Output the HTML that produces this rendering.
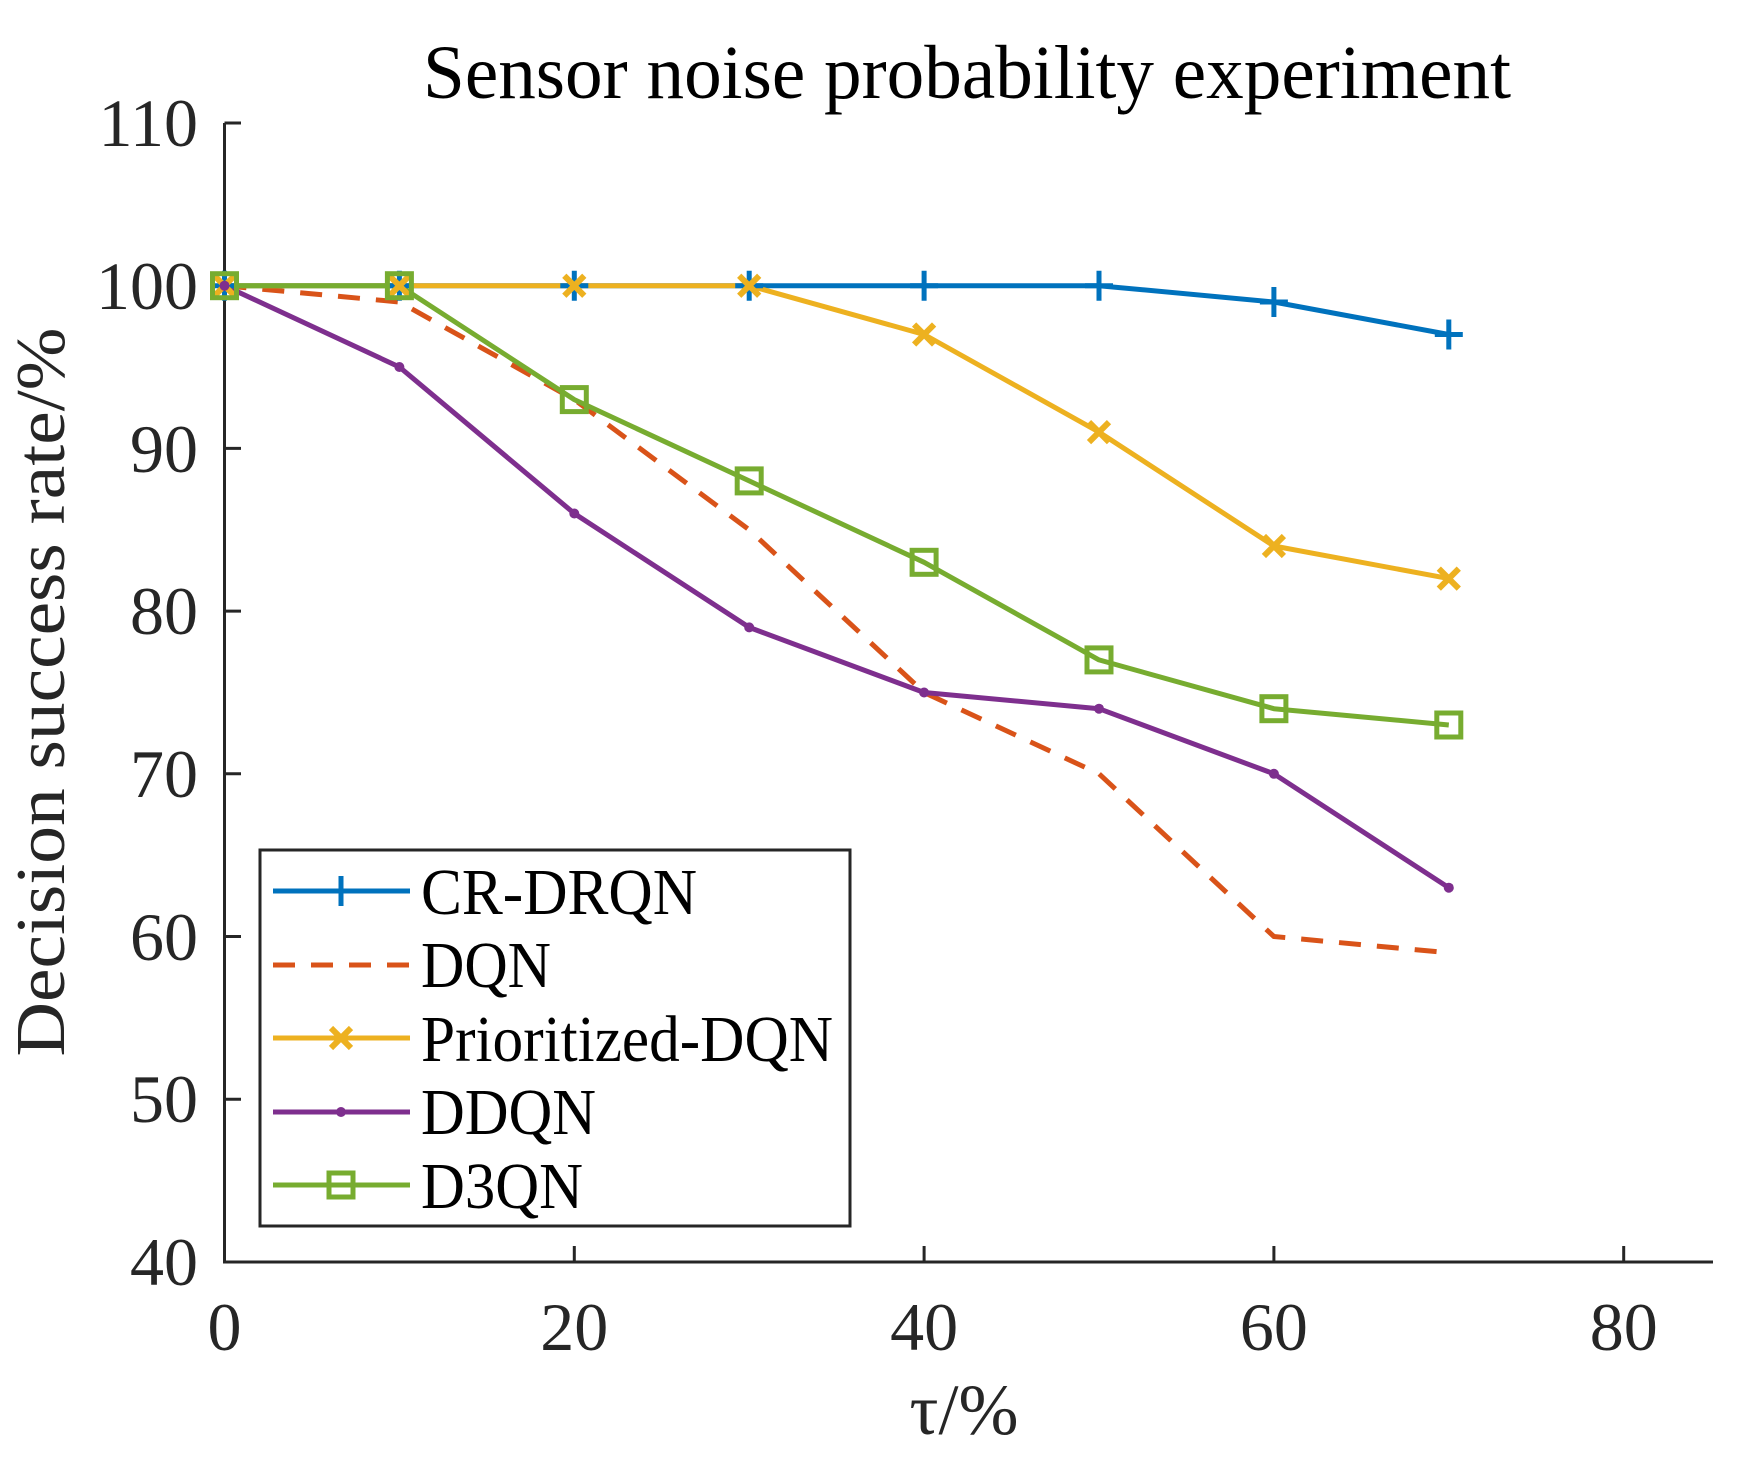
<!DOCTYPE html>
<html><head><meta charset="utf-8"><style>
html,body{margin:0;padding:0;background:#fff;}
svg{display:block;font-family:"Liberation Serif",serif;}
</style></head><body>
<svg width="1746" height="1462" viewBox="0 0 1746 1462" xmlns="http://www.w3.org/2000/svg">
<defs>
<path id="plus" d="M-14 0H14M0 -15V15" stroke-width="5" fill="none"/>
<path id="cross" d="M-10 -10L10 10M-10 10L10 -10" stroke-width="6" fill="none"/>
<rect id="sq" x="-12" y="-12" width="24" height="24" stroke-width="5" fill="none"/>
</defs>
<rect width="1746" height="1462" fill="#fff"/>
<text x="967" y="98" font-size="76" text-anchor="middle" textLength="1088" lengthAdjust="spacingAndGlyphs" fill="#000">Sensor noise probability experiment</text>

<g stroke="#262626" stroke-width="3" fill="none">
<path d="M224.5 123V1262H1713"/>
<path d="M224.5 123H241 M224.5 285.7H241 M224.5 448.4H241 M224.5 611.1H241 M224.5 773.8H241 M224.5 936.5H241 M224.5 1099.2H241"/>
<path d="M574.3 1262V1246 M924.1 1262V1246 M1273.9 1262V1246 M1623.7 1262V1246"/>
</g>
<g font-size="68" fill="#262626" text-anchor="end">
<text x="198" y="146">110</text>
<text x="198" y="309">100</text>
<text x="198" y="472">90</text>
<text x="198" y="634">80</text>
<text x="198" y="797">70</text>
<text x="198" y="960">60</text>
<text x="198" y="1122">50</text>
<text x="198" y="1285">40</text>
</g>
<g font-size="68" fill="#262626" text-anchor="middle">
<text x="224.5" y="1350">0</text>
<text x="574.3" y="1350">20</text>
<text x="924.1" y="1350">40</text>
<text x="1273.9" y="1350">60</text>
<text x="1623.7" y="1350">80</text>
</g>
<text x="964" y="1434" font-size="72" text-anchor="middle" fill="#262626">τ/%</text>
<text transform="translate(64,692) rotate(-90)" font-size="70" text-anchor="middle" textLength="729" lengthAdjust="spacingAndGlyphs" fill="#262626">Decision success rate/%</text>

<g fill="none" stroke-width="5" stroke-linejoin="round">
<polyline stroke="#0072BD" points="224.5,285.7 399.4,285.7 574.3,285.7 749.2,285.7 924.1,285.7 1099,285.7 1273.9,302 1448.8,334.5"/>
<polyline stroke="#D95319" stroke-dasharray="22,16" points="224.5,285.7 399.4,302 574.3,399.6 749.2,529.8 924.1,692.5 1099,773.8 1273.9,936.5 1448.8,952.8"/>
<polyline stroke="#EDB120" points="224.5,285.7 399.4,285.7 574.3,285.7 749.2,285.7 924.1,334.5 1099,432.1 1273.9,546 1448.8,578.6"/>
<polyline stroke="#7E2F8E" points="224.5,285.7 399.4,367 574.3,513.5 749.2,627.4 924.1,692.5 1099,708.7 1273.9,773.8 1448.8,887.7"/>
<polyline stroke="#77AC30" points="224.5,285.7 399.4,285.7 574.3,399.6 749.2,480.9 924.1,562.3 1099,659.9 1273.9,708.7 1448.8,725"/>
</g>
<g stroke="#0072BD">
<use href="#plus" x="224.5" y="285.7"/><use href="#plus" x="399.4" y="285.7"/><use href="#plus" x="574.3" y="285.7"/><use href="#plus" x="749.2" y="285.7"/><use href="#plus" x="924.1" y="285.7"/><use href="#plus" x="1099" y="285.7"/><use href="#plus" x="1273.9" y="302"/><use href="#plus" x="1448.8" y="334.5"/>
</g>
<g stroke="#EDB120">
<use href="#cross" x="224.5" y="285.7"/><use href="#cross" x="399.4" y="285.7"/><use href="#cross" x="574.3" y="285.7"/><use href="#cross" x="749.2" y="285.7"/><use href="#cross" x="924.1" y="334.5"/><use href="#cross" x="1099" y="432.1"/><use href="#cross" x="1273.9" y="546"/><use href="#cross" x="1448.8" y="578.6"/>
</g>
<g fill="#7E2F8E">
<circle cx="224.5" cy="285.7" r="5"/><circle cx="399.4" cy="367" r="5"/><circle cx="574.3" cy="513.5" r="5"/><circle cx="749.2" cy="627.4" r="5"/><circle cx="924.1" cy="692.5" r="5"/><circle cx="1099" cy="708.7" r="5"/><circle cx="1273.9" cy="773.8" r="5"/><circle cx="1448.8" cy="887.7" r="5"/>
</g>
<g stroke="#77AC30">
<use href="#sq" x="224.5" y="285.7"/><use href="#sq" x="399.4" y="285.7"/><use href="#sq" x="574.3" y="399.6"/><use href="#sq" x="749.2" y="480.9"/><use href="#sq" x="924.1" y="562.3"/><use href="#sq" x="1099" y="659.9"/><use href="#sq" x="1273.9" y="708.7"/><use href="#sq" x="1448.8" y="725"/>
</g>

<rect x="260" y="850" width="590" height="376" fill="#fff" stroke="#262626" stroke-width="3"/>
<g stroke-width="5">
<line x1="273" y1="891" x2="410" y2="891" stroke="#0072BD"/>
<use href="#plus" x="341" y="891" stroke="#0072BD"/>
<line x1="273" y1="965" x2="410" y2="965" stroke="#D95319" stroke-dasharray="22,16"/>
<line x1="273" y1="1038" x2="410" y2="1038" stroke="#EDB120"/>
<use href="#cross" x="341" y="1038" stroke="#EDB120"/>
<line x1="273" y1="1112" x2="410" y2="1112" stroke="#7E2F8E"/>
<circle cx="341" cy="1112" r="5" fill="#7E2F8E" stroke="none"/>
<line x1="273" y1="1185" x2="410" y2="1185" stroke="#77AC30"/>
<use href="#sq" x="341" y="1185" stroke="#77AC30"/>
</g>
<g font-size="66" fill="#000">
<text x="421" y="914" textLength="276" lengthAdjust="spacingAndGlyphs">CR-DRQN</text>
<text x="421" y="987" textLength="130" lengthAdjust="spacingAndGlyphs">DQN</text>
<text x="421" y="1061" textLength="412" lengthAdjust="spacingAndGlyphs">Prioritized-DQN</text>
<text x="421" y="1134" textLength="175" lengthAdjust="spacingAndGlyphs">DDQN</text>
<text x="421" y="1208" textLength="162" lengthAdjust="spacingAndGlyphs">D3QN</text>
</g>
</svg>
</body></html>
